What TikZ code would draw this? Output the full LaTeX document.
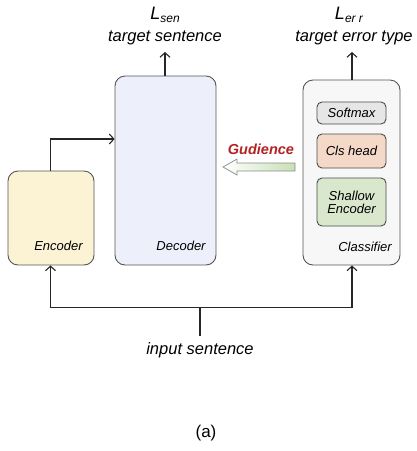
\documentclass[tikz,border=0pt]{standalone}
\usepackage{fontspec}
\setmainfont{Liberation Sans}
\usetikzlibrary{arrows.meta}
\definecolor{encfill}{HTML}{FCF2D4}
\definecolor{decfill}{HTML}{EDF0FA}
\definecolor{clsfill}{HTML}{F7F7F7}
\definecolor{smfill}{HTML}{E6E6E6}
\definecolor{chfill}{HTML}{F4D9C8}
\definecolor{sefill}{HTML}{D9E8CD}
\definecolor{gudred}{HTML}{B22222}
\definecolor{boxline}{HTML}{555555}
\definecolor{arrgreen}{HTML}{C8E0B4}
\definecolor{arrpeach}{HTML}{F5E0D6}
\tikzset{
  bigbox/.style={draw=boxline, line width=0.9pt, rounded corners=10pt, inner sep=0pt},
  smallbox/.style={draw=boxline!90!black, line width=0.9pt, rounded corners=5pt, inner sep=0pt, minimum width=69pt, align=center, font=\fontsize{13}{15}\selectfont\itshape},
  lbl/.style={font=\fontsize{13}{15}\selectfont\itshape, inner sep=0pt},
  txt/.style={font=\fontsize{16.5}{19}\selectfont\itshape, inner sep=0pt},
  conn/.style={line width=1.2pt, draw=black!85, -{Straight Barb[length=4.5pt,width=10pt,line width=1.1pt]}},
  plain/.style={line width=1.2pt, draw=black!85}
}
\begin{document}
\begin{tikzpicture}[x=1pt,y=-1pt]
\useasboundingbox (0,0) rectangle (417,451);
% boxes
\node[bigbox, fill=encfill, minimum width=86pt, minimum height=94pt] (enc) at (51,218) {};
\node[bigbox, fill=decfill, minimum width=101pt, minimum height=189pt] (dec) at (165.5,170.5) {};
\node[bigbox, fill=clsfill, minimum width=97pt, minimum height=185pt] (cls) at (351.5,172.5) {};
\node[smallbox, fill=smfill, minimum height=22pt] (sm) at (351.5,113) {Softmax};
\node[smallbox, fill=chfill, minimum height=34pt] (ch) at (351.5,151) {Cls head};
\node[smallbox, fill=sefill, minimum height=48pt] (se) at (351.5,202) {Shallow\\[-2pt]Encoder};
\node[lbl] (encl) at (58.5,246) {Encoder};
\node[lbl] (decl) at (181,246) {Decoder};
\node[lbl] (clsl) at (365,247) {Classifier};
% top outputs
\node[txt] (tsen) at (165,38) {target sentence};
\node[txt] (lsen) at (165,15) {\fontsize{18}{20}\selectfont L\raisebox{-3pt}{\fontsize{12}{12}\selectfont sen}};
\node[txt] (terr) at (354,38) {target error type};
\node[txt] (lerr) at (349,15) {\fontsize{18}{20}\selectfont L\raisebox{-3pt}{\fontsize{12}{12}\selectfont er r}};
\coordinate (dtop) at (165,52);
\coordinate (ctop) at (352,52);
\draw[conn] (dec.north -| dtop) -- (dtop);
\draw[conn] (cls.north -| ctop) -- (ctop);
% encoder to decoder
\coordinate (bend) at (50.5,139);
\draw[conn] (enc.north -| bend) -- (bend) -- (bend -| dec.west);
% guidance arrow
\node[font=\fontsize{14.5}{16}\selectfont\bfseries\itshape, text=gudred, inner sep=0pt] (gud) at (261,149) {Gudience};
\shadedraw[draw=black!45, line width=0.7pt, left color=white, middle color=arrpeach, right color=arrgreen]
  (223,167) -- (237,159) -- (237,163) -- (295,163) -- (295,171) -- (237,171) -- (237,175) -- cycle;
% input
\node[txt] (inp) at (200,350) {input sentence};
\coordinate (jl) at (50.5,307.5);
\coordinate (jr) at (352,307.5);
\coordinate (jm) at (200,307.5);
\coordinate (jb) at (200,336);
\draw[plain] (jb) -- (jm);
\draw[conn] (jm) -- (jl) -- (jl |- enc.south);
\draw[conn] (jm) -- (jr) -- (jr |- cls.south);
\node[font=\fontsize{17}{19}\selectfont, inner sep=0pt] (cap) at (206,433) {(a)};
\end{tikzpicture}
\end{document}
